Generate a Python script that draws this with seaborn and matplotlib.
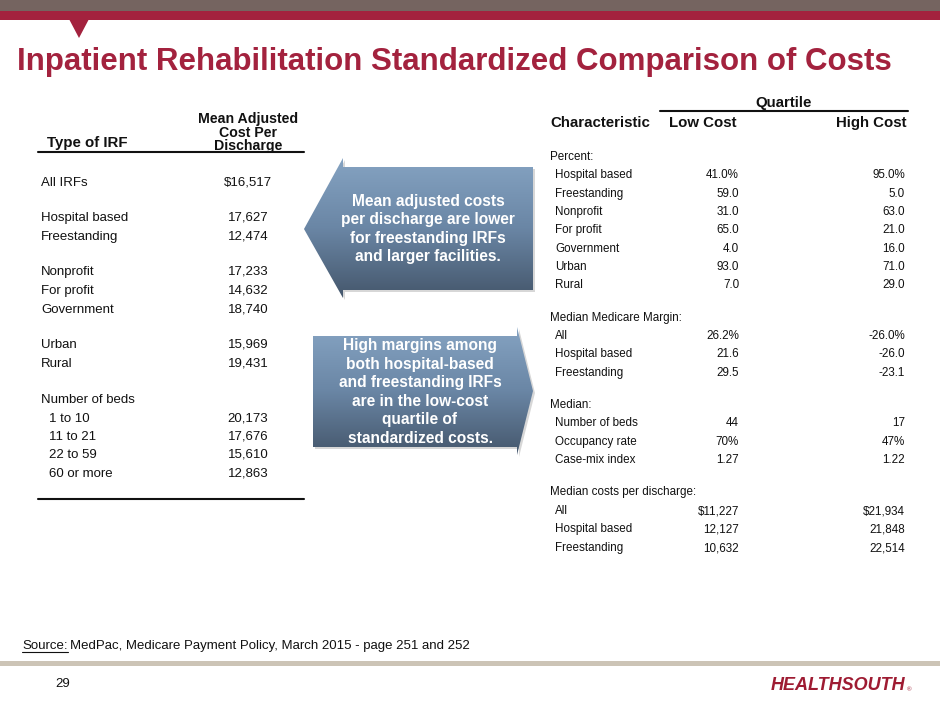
import numpy as np
import matplotlib
matplotlib.use("Agg")
import matplotlib.pyplot as plt
from matplotlib.patches import Polygon, Rectangle
import seaborn as sns

sns.set_theme(style="white")
plt.rcParams['font.family'] = ['Liberation Sans', 'DejaVu Sans']

# ---------------- data ----------------
title = "Inpatient Rehabilitation Standardized Comparison of Costs"

left_header_type = "Type of IRF"
left_header_cost = "Mean Adjusted\nCost Per\nDischarge"
left_labels = ["All IRFs", "Hospital based", "Freestanding", "Nonprofit", "For profit",
               "Government", "Urban", "Rural", "Number of beds", "1 to 10", "11 to 21",
               "22 to 59", "60 or more"]
left_values = ["$16,517", "17,627", "12,474", "17,233", "14,632", "18,740",
               "15,969", "19,431", "", "20,173", "17,676", "15,610", "12,863"]
left_indent = [0, 0, 0, 0, 0, 0, 0, 0, 0, 1, 1, 1, 1]

right_labels = ["Percent:", "Hospital based", "Freestanding", "Nonprofit", "For profit",
                "Government", "Urban", "Rural",
                "Median Medicare Margin:", "All", "Hospital based", "Freestanding",
                "Median:", "Number of beds", "Occupancy rate", "Case-mix index",
                "Median costs per discharge:", "All", "Hospital based", "Freestanding"]
right_low = ["", "41.0%", "59.0", "31.0", "65.0", "4.0", "93.0", "7.0",
             "", "26.2%", "21.6", "29.5",
             "", "44", "70%", "1.27",
             "", "$11,227", "12,127", "10,632"]
right_high = ["", "95.0%", "5.0", "63.0", "21.0", "16.0", "71.0", "29.0",
              "", "-26.0%", "-26.0", "-23.1",
              "", "17", "47%", "1.22",
              "", "$21,934", "21,848", "22,514"]

callout1 = "Mean adjusted costs\nper discharge are lower\nfor freestanding IRFs\nand larger facilities."
callout2 = "High margins among\nboth hospital-based\nand freestanding IRFs\nare in the low-cost\nquartile of\nstandardized costs."

# ---------------- layout ----------------
W, H = 940, 705
fig = plt.figure(figsize=(W / 100, H / 100), dpi=100)
ax = fig.add_axes([0, 0, 1, 1])
ax.set_xlim(0, W)
ax.set_ylim(H, 0)
ax.axis("off")

crimson = "#A3223E"
ink = "#111111"
# top bands
ax.add_patch(Rectangle((0, 0), W, 11, color="#756460", lw=0))
ax.add_patch(Rectangle((0, 11), W, 9, color=crimson, lw=0))
ax.add_patch(Polygon([(69, 19), (89, 19), (79, 38)], closed=True, color=crimson, lw=0))

ax.text(17, 70, title, fontsize=22.5, fontweight="bold", color=crimson, va="baseline", ha="left")

# ---------- left table ----------
ax.text(87, 147, left_header_type, fontsize=10.8, fontweight="bold", ha="center", va="baseline", color=ink)
ax.text(248, 150, left_header_cost, fontsize=10.2, fontweight="bold", ha="center", va="baseline",
        color=ink, linespacing=0.95, multialignment="center")
ax.plot([38, 304], [152, 152], color=ink, lw=1.5)
ax.plot([38, 304], [499, 499], color=ink, lw=1.5)

left_y = [181, 216, 235, 270, 289, 308, 343, 362, 398, 417, 435, 453, 472]
for lab, val, ind, y in zip(left_labels, left_values, left_indent, left_y):
    ax.text(41 + 8 * ind, y + 4.6, lab, fontsize=9.5, ha="left", va="baseline", color=ink)
    if val:
        ax.text(248, y + 4.6, val, fontsize=9.5, ha="center", va="baseline", color=ink)

# ---------- right table ----------
ax.text(784, 107, "Quartile", fontsize=10.8, fontweight="bold", ha="center", va="baseline", color=ink)
ax.plot([660, 908], [111, 111], color=ink, lw=1.5)
ax.text(550, 127, "Characteristic", fontsize=10.8, fontweight="bold", ha="left", va="baseline", color=ink)
ax.text(703, 127, "Low Cost", fontsize=10.8, fontweight="bold", ha="center", va="baseline", color=ink)
ax.text(906, 127, "High Cost", fontsize=10.8, fontweight="bold", ha="right", va="baseline", color=ink)

right_y = [156, 174, 193, 211, 229, 248, 266, 284,
           317, 335, 353, 372,
           404, 422, 441, 459,
           491, 510, 528, 547]
for lab, lo, hi, y in zip(right_labels, right_low, right_high, right_y):
    is_head = lab.endswith(":")
    ax.text(550 if is_head else 555, y + 4.2, lab, fontsize=8.4, ha="left", va="baseline", color=ink)
    if lo:
        ax.text(739, y + 4.2, lo, fontsize=8.4, ha="right", va="baseline", color=ink)
    if hi:
        ax.text(905, y + 4.2, hi, fontsize=8.4, ha="right", va="baseline", color=ink)

# ---------- callout arrows with gradient ----------
grad = np.linspace(0, 1, 256).reshape(-1, 1)
cmap = matplotlib.colors.LinearSegmentedColormap.from_list("steel", ["#85A3C2", "#6A86A5", "#45576C"])


def gradient_arrow(pts, ymin, ymax, xmin, xmax):
    shadow = Polygon([(x + 2, y + 2) for x, y in pts], closed=True, color="#B0B0B0", alpha=0.5, lw=0)
    ax.add_patch(shadow)
    poly = Polygon(pts, closed=True, facecolor="none", edgecolor="none")
    ax.add_patch(poly)
    im = ax.imshow(grad, cmap=cmap, extent=(xmin, xmax, ymax, ymin), aspect="auto", zorder=2)
    im.set_clip_path(poly)


arrow1 = [(304, 229), (343, 158), (343, 167), (533, 167), (533, 290), (343, 290), (343, 298)]
gradient_arrow(arrow1, 158, 298, 304, 533)
ax.text(428, 229, callout1, fontsize=11.2, fontweight="bold", color="white", ha="center", va="center",
        linespacing=1.3, zorder=3)

arrow2 = [(313, 336), (517, 336), (517, 327), (533, 391), (517, 455), (517, 447), (313, 447)]
gradient_arrow(arrow2, 327, 455, 313, 533)
ax.text(420, 392, callout2, fontsize=11.2, fontweight="bold", color="white", ha="center", va="center",
        linespacing=1.3, zorder=3)

# ---------- footer ----------
src_y = 649
t1 = ax.text(22, src_y, "Source:", fontsize=9.5, ha="left", va="baseline", color=ink)
fig.canvas.draw()
bb = t1.get_window_extent()
x0, x1 = bb.x0, bb.x1
ax.plot([x0, x1], [src_y + 2.5, src_y + 2.5], color=ink, lw=0.8)
ax.text(x1 + 3, src_y, "MedPac, Medicare Payment Policy, March 2015 - page 251 and 252",
        fontsize=9.5, ha="left", va="baseline", color=ink)

ax.add_patch(Rectangle((0, 661), W, 4.5, color="#CCC4B6", lw=0))
ax.text(55, 687, "29", fontsize=9.5, ha="left", va="baseline", color=ink)

logo = ax.text(771, 690, "HEALTHSOUTH", fontsize=13.0, fontweight="bold", fontstyle="italic",
               color="#9E1B32", ha="left", va="baseline")
fig.canvas.draw()
lb = logo.get_window_extent()
ax.text(lb.x1 + 1, 691, "®", fontsize=4.5, color="#9E1B32", ha="left", va="baseline")

fig.savefig("out.png", dpi=100)
